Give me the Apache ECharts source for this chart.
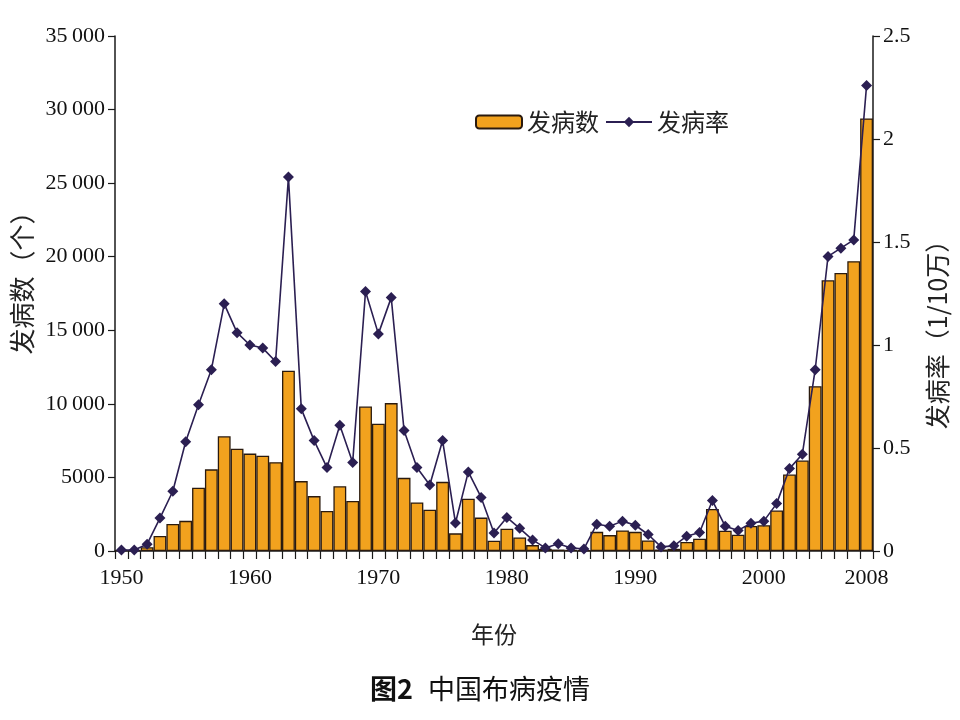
<!DOCTYPE html>
<html>
<head>
<meta charset="utf-8">
<style>
html, body { margin: 0; padding: 0; background: #fff; }
#main { width: 960px; height: 720px; }
</style>
<script src="https://cdn.jsdelivr.net/npm/echarts@6/dist/echarts.min.js"></script>
</head>
<body>
<div id="main"></div>
<script>
// 年份 1950-2008
var years = [];
for (var y = 1950; y <= 2008; y++) years.push(String(y));

// 发病数（个）
var cases = [
    50, 60, 250, 1020, 1830, 2050, 4300, 5550, 7800, 6950,
    6620, 6480, 6040, 12250, 4750, 3730, 2720, 4400, 3400, 9820,
    8650, 10050, 4970, 3300, 2800, 4700, 1200, 3550, 2270, 700,
    1520, 920, 400, 150, 100, 80, 60, 1300, 1080, 1400,
    1300, 720, 100, 150, 620, 840, 2850, 1380, 1100, 1700,
    1750, 2750, 5200, 6150, 11200, 18400, 18900, 19700, 29400
];

// 发病率（1/10万）
var rate = [
    0.005, 0.005, 0.033, 0.16, 0.29, 0.53, 0.71, 0.88, 1.20, 1.06,
    1.00, 0.985, 0.92, 1.815, 0.69, 0.536, 0.405, 0.61, 0.43, 1.26,
    1.054, 1.23, 0.585, 0.405, 0.32, 0.536, 0.136, 0.384, 0.26, 0.087,
    0.163, 0.11, 0.054, 0.015, 0.035, 0.015, 0.01, 0.13, 0.12, 0.145,
    0.125, 0.08, 0.02, 0.025, 0.072, 0.09, 0.245, 0.12, 0.10, 0.135,
    0.145, 0.23, 0.40, 0.47, 0.88, 1.43, 1.47, 1.51, 2.26
];

// 横轴只标这些年份
var shownYears = ['1950', '1960', '1970', '1980', '1990', '2000', '2008'];

var serif = '"Liberation Serif", "DejaVu Serif", serif';
var cjk = '"Noto Sans CJK SC", sans-serif';
var ink = '#1a1a1a';

var chart = echarts.init(document.getElementById('main'));
chart.setOption({
    backgroundColor: '#ffffff',
    animation: false,
    title: {
        text: '{b|图2}   {n|中国布病疫情}',
        left: 'center',
        top: 670,
        textStyle: {
            rich: {
                b: { fontFamily: cjk, fontWeight: 'bold', fontSize: 27, color: '#111' },
                n: { fontFamily: cjk, fontWeight: 'normal', fontSize: 27, color: '#111' }
            }
        }
    },
    legend: {
        left: 470,
        top: 105,
        itemWidth: 46,
        itemHeight: 13,
        itemGap: 6,
        textStyle: { fontFamily: cjk, fontSize: 24, color: '#222' },
        data: ['发病数', '发病率']
    },
    grid: { left: 115, right: 87, top: 36, bottom: 169 },
    xAxis: {
        type: 'category',
        data: years,
        name: '年份',
        nameLocation: 'middle',
        nameGap: 72,
        nameTextStyle: { fontFamily: cjk, fontSize: 23, color: '#222' },
        axisLine: { lineStyle: { color: ink, width: 1.5 } },
        axisTick: { show: true, interval: 0, length: 8, lineStyle: { color: ink, width: 1.2 } },
        axisLabel: {
            interval: function (i, v) { return shownYears.indexOf(v) >= 0; },
            margin: 16,
            fontFamily: serif,
            fontSize: 22,
            color: '#111'
        }
    },
    yAxis: [{
        type: 'value',
        min: 0,
        max: 35000,
        interval: 5000,
        name: '发病数（个）',
        nameLocation: 'middle',
        nameRotate: 90,
        nameGap: 78,
        nameTextStyle: { fontFamily: cjk, fontSize: 26, color: '#222', padding: [0, 0, 0, 34] },
        splitLine: { show: false },
        axisLine: { show: true, lineStyle: { color: ink, width: 1.5 } },
        axisTick: { show: true, length: 7, lineStyle: { color: ink, width: 1.2 } },
        axisLabel: {
            margin: 10,
            fontFamily: serif,
            fontSize: 22,
            color: '#111',
            formatter: function (v) {
                return v >= 10000 ? String(v).replace(/(\d{3})$/, '\u2009$1') : String(v);
            }
        }
    }, {
        type: 'value',
        min: 0,
        max: 2.5,
        interval: 0.5,
        name: '发病率（1/10万）',
        nameLocation: 'middle',
        nameRotate: 90,
        nameGap: 52,
        nameTextStyle: { fontFamily: cjk, fontSize: 25, color: '#222', padding: [0, 70, 0, 0] },
        splitLine: { show: false },
        axisLine: { show: true, lineStyle: { color: ink, width: 1.5 } },
        axisTick: { show: true, length: 7, lineStyle: { color: ink, width: 1.2 } },
        axisLabel: { margin: 10, fontFamily: serif, fontSize: 22, color: '#111' }
    }],
    series: [{
        name: '发病数',
        type: 'bar',
        yAxisIndex: 0,
        barCategoryGap: '0%',
        data: cases,
        itemStyle: { color: '#F2A21E', borderColor: '#2a1a0e', borderWidth: 1.3 }
    }, {
        name: '发病率',
        type: 'line',
        yAxisIndex: 1,
        data: rate,
        symbol: 'diamond',
        symbolSize: 11,
        showAllSymbol: true,
        lineStyle: { color: '#2b1f52', width: 1.6 },
        itemStyle: { color: '#2b1f52' }
    }]
});
</script>
</body>
</html>
